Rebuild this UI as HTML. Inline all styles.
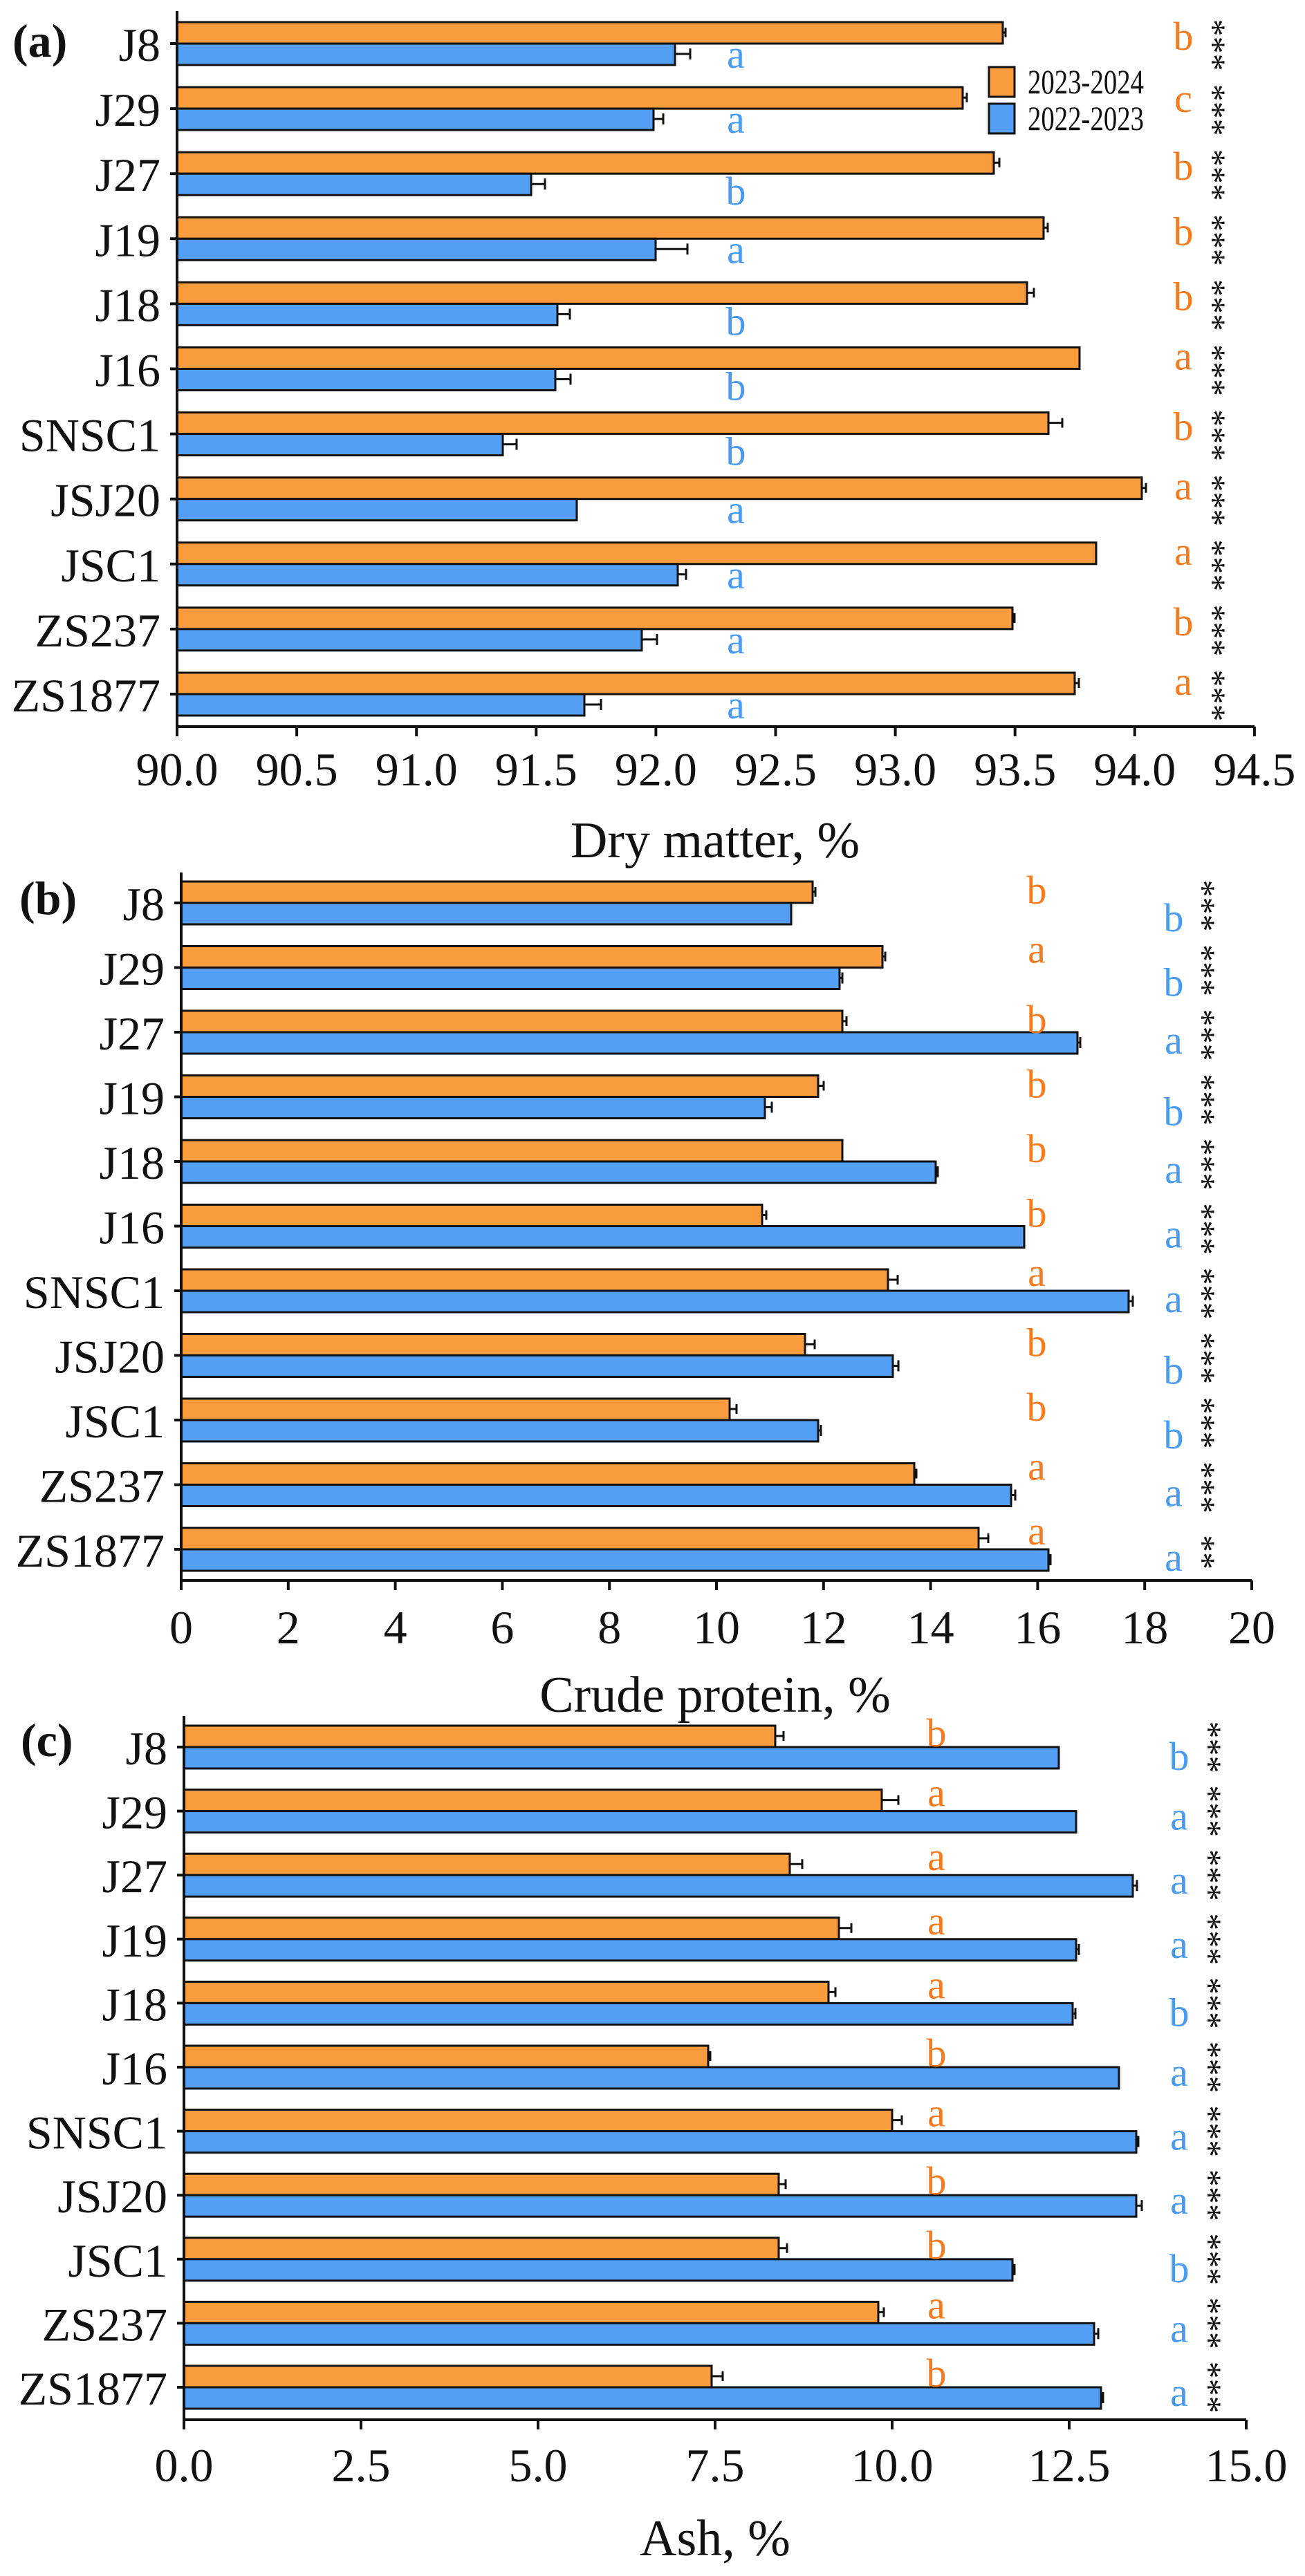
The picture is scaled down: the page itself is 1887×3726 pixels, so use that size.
<!DOCTYPE html>
<html><head><meta charset="utf-8">
<style>
html,body{margin:0;padding:0;background:#fff;}
svg{display:block;font-family:"Liberation Serif",serif;}
.o{fill:#F89C3E;stroke:#111;stroke-width:3}
.b{fill:#539FF5;stroke:#111;stroke-width:3}
.lab{font-size:68px;text-anchor:end;fill:#111}
.tk{font-size:68px;text-anchor:middle;fill:#111}
.lo{font-size:58px;fill:#F47B20;text-anchor:middle}
.lb{font-size:58px;fill:#4A9BF0;text-anchor:middle}
.ast{font-size:50px;fill:#111;text-anchor:middle}
.ax{stroke:#111;stroke-width:4;fill:none}
.eb{stroke:#111;stroke-width:3;fill:none}
.ttl{font-size:74px;text-anchor:middle;fill:#111}
.pl{font-size:68px;font-weight:bold;fill:#111}
</style></head>
<body>
<svg width="1887" height="3726" viewBox="0 0 1887 3726" xmlns="http://www.w3.org/2000/svg">

<!-- ================= PANEL A ================= -->
<text class="pl" x="18" y="82">(a)</text>
<g transform="translate(256,32)">
 <g transform="translate(0,0)"><rect class="o" x="0" y="0" width="1194" height="31"/><rect class="b" x="0" y="31" width="720" height="31"/><path class="eb" d="M1194 15h4M1198 8v14M720 46h22M742 38v16"/><text class="lab" x="-24" y="56">J8</text><text class="lo" x="1455" y="40">b</text><text class="lb" x="808" y="66">a</text><text class="ast" transform="translate(1500,33) rotate(90)" y="18">***</text></g>
 <g transform="translate(0,94.1)"><rect class="o" x="0" y="0" width="1136" height="31"/><rect class="b" x="0" y="31" width="689" height="31"/><path class="eb" d="M1136 15h6M1142 8v14M689 46h14M703 38v16"/><text class="lab" x="-24" y="56">J29</text><text class="lo" x="1455" y="36">c</text><text class="lb" x="808" y="66">a</text><text class="ast" transform="translate(1500,33) rotate(90)" y="18">***</text></g>
 <g transform="translate(0,188.2)"><rect class="o" x="0" y="0" width="1181" height="31"/><rect class="b" x="0" y="31" width="512" height="31"/><path class="eb" d="M1181 15h8M1189 8v14M512 46h20M532 38v16"/><text class="lab" x="-24" y="56">J27</text><text class="lo" x="1455" y="40">b</text><text class="lb" x="808" y="76">b</text><text class="ast" transform="translate(1500,33) rotate(90)" y="18">***</text></g>
 <g transform="translate(0,282.3)"><rect class="o" x="0" y="0" width="1253" height="31"/><rect class="b" x="0" y="31" width="692" height="31"/><path class="eb" d="M1253 15h6M1259 8v14M692 46h46M738 38v16"/><text class="lab" x="-24" y="56">J19</text><text class="lo" x="1455" y="40">b</text><text class="lb" x="808" y="66">a</text><text class="ast" transform="translate(1500,33) rotate(90)" y="18">***</text></g>
 <g transform="translate(0,376.4)"><rect class="o" x="0" y="0" width="1229" height="31"/><rect class="b" x="0" y="31" width="550" height="31"/><path class="eb" d="M1229 15h10M1239 8v14M550 46h18M568 38v16"/><text class="lab" x="-24" y="56">J18</text><text class="lo" x="1455" y="40">b</text><text class="lb" x="808" y="76">b</text><text class="ast" transform="translate(1500,33) rotate(90)" y="18">***</text></g>
 <g transform="translate(0,470.5)"><rect class="o" x="0" y="0" width="1305" height="31"/><rect class="b" x="0" y="31" width="547" height="31"/><path class="eb" d="M547 46h22M569 38v16"/><text class="lab" x="-24" y="56">J16</text><text class="lo" x="1455" y="32">a</text><text class="lb" x="808" y="76">b</text><text class="ast" transform="translate(1500,33) rotate(90)" y="18">***</text></g>
 <g transform="translate(0,564.6)"><rect class="o" x="0" y="0" width="1260" height="31"/><rect class="b" x="0" y="31" width="471" height="31"/><path class="eb" d="M1260 15h20M1280 8v14M471 46h20M491 38v16"/><text class="lab" x="-24" y="56">SNSC1</text><text class="lo" x="1455" y="40">b</text><text class="lb" x="808" y="76">b</text><text class="ast" transform="translate(1500,33) rotate(90)" y="18">***</text></g>
 <g transform="translate(0,658.7)"><rect class="o" x="0" y="0" width="1395" height="31"/><rect class="b" x="0" y="31" width="578" height="31"/><path class="eb" d="M1395 15h6M1401 8v14"/><text class="lab" x="-24" y="56">JSJ20</text><text class="lo" x="1455" y="32">a</text><text class="lb" x="808" y="66">a</text><text class="ast" transform="translate(1500,33) rotate(90)" y="18">***</text></g>
 <g transform="translate(0,752.8)"><rect class="o" x="0" y="0" width="1329" height="31"/><rect class="b" x="0" y="31" width="724" height="31"/><path class="eb" d="M724 46h12M736 38v16"/><text class="lab" x="-24" y="56">JSC1</text><text class="lo" x="1455" y="32">a</text><text class="lb" x="808" y="66">a</text><text class="ast" transform="translate(1500,33) rotate(90)" y="18">***</text></g>
 <g transform="translate(0,846.9)"><rect class="o" x="0" y="0" width="1208" height="31"/><rect class="b" x="0" y="31" width="672" height="31"/><path class="eb" d="M1208 15h3M1211 8v14M672 46h22M694 38v16"/><text class="lab" x="-24" y="56">ZS237</text><text class="lo" x="1455" y="40">b</text><text class="lb" x="808" y="66">a</text><text class="ast" transform="translate(1500,33) rotate(90)" y="18">***</text></g>
 <g transform="translate(0,941)"><rect class="o" x="0" y="0" width="1298" height="31"/><rect class="b" x="0" y="31" width="589" height="31"/><path class="eb" d="M1298 15h6M1304 8v14M589 46h24M613 38v16"/><text class="lab" x="-24" y="56">ZS1877</text><text class="lo" x="1455" y="32">a</text><text class="lb" x="808" y="66">a</text><text class="ast" transform="translate(1500,33) rotate(90)" y="18">***</text></g>
 <path class="ax" d="M0 -16V1019H1558"/>
 <path class="ax" d="M-10 31h10M-10 125.1h10M-10 219.2h10M-10 313.3h10M-10 407.4h10M-10 501.5h10M-10 595.6h10M-10 689.7h10M-10 783.8h10M-10 877.9h10M-10 972h10"/>
 <path class="ax" d="M0 1019v14M173.1 1019v14M346.2 1019v14M519.3 1019v14M692.4 1019v14M865.5 1019v14M1038.6 1019v14M1211.7 1019v14M1384.8 1019v14M1557.9 1019v14"/>
 <text class="tk" x="0" y="1104">90.0</text><text class="tk" x="173.1" y="1104">90.5</text><text class="tk" x="346.2" y="1104">91.0</text><text class="tk" x="519.3" y="1104">91.5</text><text class="tk" x="692.4" y="1104">92.0</text><text class="tk" x="865.5" y="1104">92.5</text><text class="tk" x="1038.6" y="1104">93.0</text><text class="tk" x="1211.7" y="1104">93.5</text><text class="tk" x="1384.8" y="1104">94.0</text><text class="tk" x="1557.9" y="1104">94.5</text>
</g>
<text class="ttl" x="1034" y="1240">Dry matter, %</text>
<rect class="o" x="1430" y="97" width="37" height="43"/>
<rect class="b" x="1430" y="150" width="37" height="43"/>
<text x="1486" y="135" style="font-size:50px;fill:#111" textLength="168" lengthAdjust="spacingAndGlyphs">2023-2024</text>
<text x="1486" y="188" style="font-size:50px;fill:#111" textLength="168" lengthAdjust="spacingAndGlyphs">2022-2023</text>

<!-- ================= PANEL B ================= -->
<text class="pl" x="28" y="1322">(b)</text>
<g transform="translate(262,1275)">
 <g transform="translate(0,0)"><rect class="o" x="0" y="0" width="913" height="31"/><rect class="b" x="0" y="31" width="882" height="31"/><path class="eb" d="M913 15h4M917 8v14"/><text class="lab" x="-24" y="56">J8</text><text class="lo" x="1237" y="32">b</text><text class="lb" x="1435" y="72">b</text><text class="ast" transform="translate(1479,35) rotate(90)" y="18">***</text></g>
 <g transform="translate(0,93.5)"><rect class="o" x="0" y="0" width="1014" height="31"/><rect class="b" x="0" y="31" width="952" height="31"/><path class="eb" d="M1014 15h4M1018 8v14M952 46h4M956 38v16"/><text class="lab" x="-24" y="56">J29</text><text class="lo" x="1237" y="24">a</text><text class="lb" x="1435" y="72">b</text><text class="ast" transform="translate(1479,35) rotate(90)" y="18">***</text></g>
 <g transform="translate(0,187)"><rect class="o" x="0" y="0" width="956" height="31"/><rect class="b" x="0" y="31" width="1296" height="31"/><path class="eb" d="M956 15h6M962 8v14M1296 46h4M1300 38v16"/><text class="lab" x="-24" y="56">J27</text><text class="lo" x="1237" y="32">b</text><text class="lb" x="1435" y="62">a</text><text class="ast" transform="translate(1479,35) rotate(90)" y="18">***</text></g>
 <g transform="translate(0,280.5)"><rect class="o" x="0" y="0" width="921" height="31"/><rect class="b" x="0" y="31" width="844" height="31"/><path class="eb" d="M921 15h8M929 8v14M844 46h10M854 38v16"/><text class="lab" x="-24" y="56">J19</text><text class="lo" x="1237" y="32">b</text><text class="lb" x="1435" y="72">b</text><text class="ast" transform="translate(1479,35) rotate(90)" y="18">***</text></g>
 <g transform="translate(0,374)"><rect class="o" x="0" y="0" width="956" height="31"/><rect class="b" x="0" y="31" width="1091" height="31"/><path class="eb" d="M1091 46h3M1094 38v16"/><text class="lab" x="-24" y="56">J18</text><text class="lo" x="1237" y="32">b</text><text class="lb" x="1435" y="62">a</text><text class="ast" transform="translate(1479,35) rotate(90)" y="18">***</text></g>
 <g transform="translate(0,467.5)"><rect class="o" x="0" y="0" width="840" height="31"/><rect class="b" x="0" y="31" width="1219" height="31"/><path class="eb" d="M840 15h6M846 8v14"/><text class="lab" x="-24" y="56">J16</text><text class="lo" x="1237" y="32">b</text><text class="lb" x="1435" y="62">a</text><text class="ast" transform="translate(1479,35) rotate(90)" y="18">***</text></g>
 <g transform="translate(0,561)"><rect class="o" x="0" y="0" width="1022" height="31"/><rect class="b" x="0" y="31" width="1370" height="31"/><path class="eb" d="M1022 15h14M1036 8v14M1370 46h6M1376 38v16"/><text class="lab" x="-24" y="56">SNSC1</text><text class="lo" x="1237" y="24">a</text><text class="lb" x="1435" y="62">a</text><text class="ast" transform="translate(1479,35) rotate(90)" y="18">***</text></g>
 <g transform="translate(0,654.5)"><rect class="o" x="0" y="0" width="902" height="31"/><rect class="b" x="0" y="31" width="1029" height="31"/><path class="eb" d="M902 15h14M916 8v14M1029 46h8M1037 38v16"/><text class="lab" x="-24" y="56">JSJ20</text><text class="lo" x="1237" y="32">b</text><text class="lb" x="1435" y="72">b</text><text class="ast" transform="translate(1479,35) rotate(90)" y="18">***</text></g>
 <g transform="translate(0,748)"><rect class="o" x="0" y="0" width="793" height="31"/><rect class="b" x="0" y="31" width="921" height="31"/><path class="eb" d="M793 15h10M803 8v14M921 46h4M925 38v16"/><text class="lab" x="-24" y="56">JSC1</text><text class="lo" x="1237" y="32">b</text><text class="lb" x="1435" y="72">b</text><text class="ast" transform="translate(1479,35) rotate(90)" y="18">***</text></g>
 <g transform="translate(0,841.5)"><rect class="o" x="0" y="0" width="1060" height="31"/><rect class="b" x="0" y="31" width="1200" height="31"/><path class="eb" d="M1060 15h3M1063 8v14M1200 46h6M1206 38v16"/><text class="lab" x="-24" y="56">ZS237</text><text class="lo" x="1237" y="24">a</text><text class="lb" x="1435" y="62">a</text><text class="ast" transform="translate(1479,35) rotate(90)" y="18">***</text></g>
 <g transform="translate(0,935)"><rect class="o" x="0" y="0" width="1153" height="31"/><rect class="b" x="0" y="31" width="1254" height="31"/><path class="eb" d="M1153 15h14M1167 8v14M1254 46h3M1257 38v16"/><text class="lab" x="-24" y="56">ZS1877</text><text class="lo" x="1237" y="24">a</text><text class="lb" x="1435" y="62">a</text><text class="ast" transform="translate(1479,35) rotate(90)" y="18">**</text></g>
 <path class="ax" d="M0 -13V1011H1548"/>
 <path class="ax" d="M-10 31h10M-10 124.5h10M-10 218h10M-10 311.5h10M-10 405h10M-10 498.5h10M-10 592h10M-10 685.5h10M-10 779h10M-10 872.5h10M-10 966h10"/>
 <path class="ax" d="M0 1011v14M154.8 1011v14M309.6 1011v14M464.4 1011v14M619.2 1011v14M774 1011v14M928.8 1011v14M1083.6 1011v14M1238.4 1011v14M1393.2 1011v14M1548 1011v14"/>
 <text class="tk" x="0" y="1102">0</text><text class="tk" x="154.8" y="1102">2</text><text class="tk" x="309.6" y="1102">4</text><text class="tk" x="464.4" y="1102">6</text><text class="tk" x="619.2" y="1102">8</text><text class="tk" x="774" y="1102">10</text><text class="tk" x="928.8" y="1102">12</text><text class="tk" x="1083.6" y="1102">14</text><text class="tk" x="1238.4" y="1102">16</text><text class="tk" x="1393.2" y="1102">18</text><text class="tk" x="1548" y="1102">20</text>
</g>
<text class="ttl" x="1034" y="2476">Crude protein, %</text>

<!-- ================= PANEL C ================= -->
<text class="pl" x="30" y="2540">(c)</text>
<g transform="translate(266,2496)">
 <g transform="translate(0,0)"><rect class="o" x="0" y="0" width="855" height="31"/><rect class="b" x="0" y="31" width="1265" height="31"/><path class="eb" d="M855 15h12M867 8v14"/><text class="lab" x="-24" y="56">J8</text><text class="lo" x="1088" y="30">b</text><text class="lb" x="1439" y="64">b</text><text class="ast" transform="translate(1484,31) rotate(90)" y="18">***</text></g>
 <g transform="translate(0,92.6)"><rect class="o" x="0" y="0" width="1009" height="31"/><rect class="b" x="0" y="31" width="1290" height="31"/><path class="eb" d="M1009 15h24M1033 8v14"/><text class="lab" x="-24" y="56">J29</text><text class="lo" x="1088" y="24">a</text><text class="lb" x="1439" y="58">a</text><text class="ast" transform="translate(1484,31) rotate(90)" y="18">***</text></g>
 <g transform="translate(0,185.2)"><rect class="o" x="0" y="0" width="876" height="31"/><rect class="b" x="0" y="31" width="1372" height="31"/><path class="eb" d="M876 15h18M894 8v14M1372 46h6M1378 38v16"/><text class="lab" x="-24" y="56">J27</text><text class="lo" x="1088" y="24">a</text><text class="lb" x="1439" y="58">a</text><text class="ast" transform="translate(1484,31) rotate(90)" y="18">***</text></g>
 <g transform="translate(0,277.8)"><rect class="o" x="0" y="0" width="947" height="31"/><rect class="b" x="0" y="31" width="1290" height="31"/><path class="eb" d="M947 15h18M965 8v14M1290 46h4M1294 38v16"/><text class="lab" x="-24" y="56">J19</text><text class="lo" x="1088" y="24">a</text><text class="lb" x="1439" y="58">a</text><text class="ast" transform="translate(1484,31) rotate(90)" y="18">***</text></g>
 <g transform="translate(0,370.4)"><rect class="o" x="0" y="0" width="932" height="31"/><rect class="b" x="0" y="31" width="1285" height="31"/><path class="eb" d="M932 15h10M942 8v14M1285 46h4M1289 38v16"/><text class="lab" x="-24" y="56">J18</text><text class="lo" x="1088" y="24">a</text><text class="lb" x="1439" y="64">b</text><text class="ast" transform="translate(1484,31) rotate(90)" y="18">***</text></g>
 <g transform="translate(0,463)"><rect class="o" x="0" y="0" width="758" height="31"/><rect class="b" x="0" y="31" width="1352" height="31"/><path class="eb" d="M758 15h3M761 8v14"/><text class="lab" x="-24" y="56">J16</text><text class="lo" x="1088" y="30">b</text><text class="lb" x="1439" y="58">a</text><text class="ast" transform="translate(1484,31) rotate(90)" y="18">***</text></g>
 <g transform="translate(0,555.6)"><rect class="o" x="0" y="0" width="1024" height="31"/><rect class="b" x="0" y="31" width="1377" height="31"/><path class="eb" d="M1024 15h14M1038 8v14M1377 46h3M1380 38v16"/><text class="lab" x="-24" y="56">SNSC1</text><text class="lo" x="1088" y="24">a</text><text class="lb" x="1439" y="58">a</text><text class="ast" transform="translate(1484,31) rotate(90)" y="18">***</text></g>
 <g transform="translate(0,648.2)"><rect class="o" x="0" y="0" width="860" height="31"/><rect class="b" x="0" y="31" width="1377" height="31"/><path class="eb" d="M860 15h10M870 8v14M1377 46h8M1385 38v16"/><text class="lab" x="-24" y="56">JSJ20</text><text class="lo" x="1088" y="30">b</text><text class="lb" x="1439" y="58">a</text><text class="ast" transform="translate(1484,31) rotate(90)" y="18">***</text></g>
 <g transform="translate(0,740.8)"><rect class="o" x="0" y="0" width="860" height="31"/><rect class="b" x="0" y="31" width="1198" height="31"/><path class="eb" d="M860 15h12M872 8v14M1198 46h3M1201 38v16"/><text class="lab" x="-24" y="56">JSC1</text><text class="lo" x="1088" y="30">b</text><text class="lb" x="1439" y="64">b</text><text class="ast" transform="translate(1484,31) rotate(90)" y="18">***</text></g>
 <g transform="translate(0,833.4)"><rect class="o" x="0" y="0" width="1004" height="31"/><rect class="b" x="0" y="31" width="1316" height="31"/><path class="eb" d="M1004 15h8M1012 8v14M1316 46h6M1322 38v16"/><text class="lab" x="-24" y="56">ZS237</text><text class="lo" x="1088" y="24">a</text><text class="lb" x="1439" y="58">a</text><text class="ast" transform="translate(1484,31) rotate(90)" y="18">***</text></g>
 <g transform="translate(0,926)"><rect class="o" x="0" y="0" width="763" height="31"/><rect class="b" x="0" y="31" width="1326" height="31"/><path class="eb" d="M763 15h16M779 8v14M1326 46h3M1329 38v16"/><text class="lab" x="-24" y="56">ZS1877</text><text class="lo" x="1088" y="30">b</text><text class="lb" x="1439" y="58">a</text><text class="ast" transform="translate(1484,31) rotate(90)" y="18">***</text></g>
 <path class="ax" d="M0 -14V1004H1536"/>
 <path class="ax" d="M-10 31h10M-10 123.6h10M-10 216.2h10M-10 308.8h10M-10 401.4h10M-10 494h10M-10 586.6h10M-10 679.2h10M-10 771.8h10M-10 864.4h10M-10 957h10"/>
 <path class="ax" d="M0 1004v14M256 1004v14M512 1004v14M768 1004v14M1024 1004v14M1280 1004v14M1536 1004v14"/>
 <text class="tk" x="0" y="1093">0.0</text><text class="tk" x="256" y="1093">2.5</text><text class="tk" x="512" y="1093">5.0</text><text class="tk" x="768" y="1093">7.5</text><text class="tk" x="1024" y="1093">10.0</text><text class="tk" x="1280" y="1093">12.5</text><text class="tk" x="1536" y="1093">15.0</text>
</g>
<text class="ttl" x="1034" y="3696">Ash, %</text>
</svg>
</body></html>
